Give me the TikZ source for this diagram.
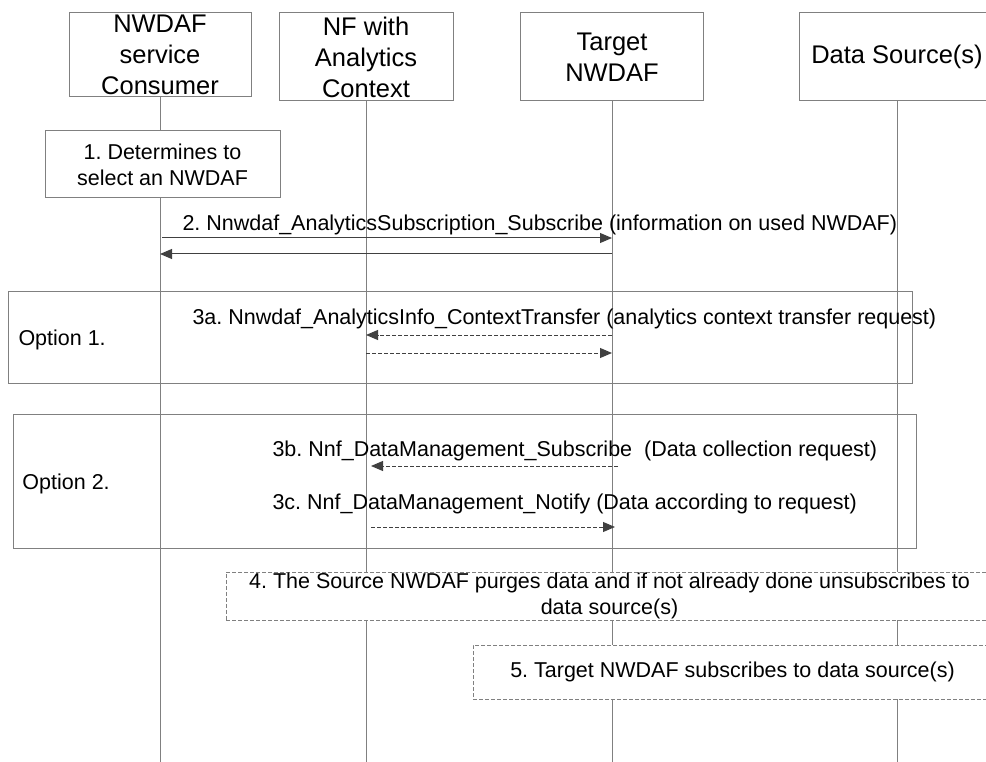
\documentclass[tikz,border=0pt]{standalone}
\usepackage{fontspec}
\setmainfont{Liberation Sans}
\usetikzlibrary{arrows.meta}
\definecolor{linegray}{HTML}{808080}
\definecolor{arrowgray}{HTML}{404040}
\newcommand{\txtsize}{\fontsize{21.5}{26}\selectfont}
\newcommand{\hdrsize}{\fontsize{25.5}{31}\selectfont}
\frenchspacing
\begin{document}
\begin{tikzpicture}[x=1pt,y=-1pt,line width=1pt]
\tikzstyle{every node}+=[inner sep=0pt,font=\txtsize]
\tikzstyle{actor}=[draw=linegray,fill=white,align=center,font=\hdrsize]
\tikzstyle{life}=[draw=linegray]
\tikzstyle{stepbox}=[draw=linegray,fill=white,align=center]
\tikzstyle{notebox}=[draw=linegray,fill=white,align=center,dash pattern=on 4pt off 2pt]
\tikzstyle{optbox}=[draw=linegray]
\tikzstyle{msg}=[draw=arrowgray,-{Triangle[length=12pt,width=10pt]}]
\tikzstyle{msgdash}=[msg,dash pattern=on 4pt off 2pt]
\useasboundingbox (0,0) rectangle (986,762);
\clip (0,0) rectangle (986,762);
\node[actor,minimum width=182,minimum height=84] (cons) at (160,55) {NWDAF\\service\\Consumer};
\node[actor,minimum width=174,minimum height=88] (nf) at (366,57) {NF with\\Analytics\\Context};
\node[actor,minimum width=183,minimum height=88] (tgt) at (612,57) {Target\\NWDAF};
\node[actor,minimum width=196,minimum height=88] (src) at (897,57) {Data Source(s)};
\foreach \n in {cons,nf,tgt,src}
  \draw[life] (\n.south) -- (\n |- 0,762);
\node[stepbox,minimum width=235,minimum height=67] (det) at (162.5,164.5) {1. Determines to\\select an NWDAF};
\draw[msg] ([xshift=2]cons |- 0,238) -- (tgt |- 0,238);
\node[anchor=base west] (m2) at (182,231) {2. Nnwdaf\_AnalyticsSubscription\_Subscribe (information on used NWDAF)};
\draw[msg] (tgt |- 0,254) -- (cons |- 0,254);
\node[optbox,minimum width=904,minimum height=91] (opt1) at (460,337.5) {};
\node[anchor=base west] (o1) at (18,345) {Option 1.};
\node[anchor=base west] (m3a) at (192,324) {3a. Nnwdaf\_AnalyticsInfo\_ContextTransfer (analytics context transfer request)};
\draw[msgdash] (tgt |- 0,335) -- (nf |- 0,335);
\draw[msgdash] (nf |- 0,353) -- (tgt |- 0,353);
\node[optbox,minimum width=903,minimum height=134] (opt2) at (464.5,481) {};
\node[anchor=base west] (o2) at (22,489) {Option 2.};
\node[anchor=base west] (m3b) at (272,456) {3b. Nnf\_DataManagement\_Subscribe~ (Data collection request)};
\draw[msgdash] ([xshift=6]tgt |- 0,466) -- ([xshift=5]nf |- 0,466);
\node[anchor=base west] (m3c) at (272,509) {3c. Nnf\_DataManagement\_Notify (Data according to request)};
\draw[msgdash] ([xshift=5]nf |- 0,527) -- ([xshift=3]tgt |- 0,527);
\node[notebox,minimum width=767,minimum height=48] (purge) at (609.5,596) {4. The Source NWDAF purges data and if not already done unsubscribes to\\data source(s)};
\node[notebox,minimum width=519,minimum height=54] (subs) at (732.5,672) {5. Target NWDAF subscribes to data source(s)};
\end{tikzpicture}
\end{document}
